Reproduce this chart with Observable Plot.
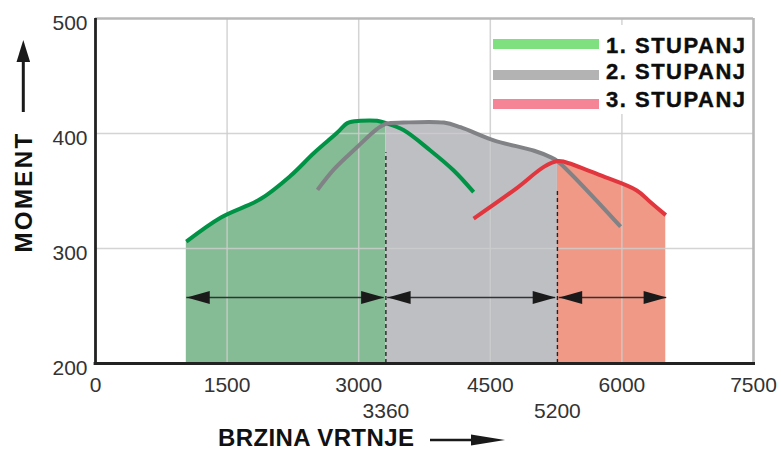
<!DOCTYPE html>
<html>
<head>
<meta charset="utf-8">
<script src="https://cdn.jsdelivr.net/npm/d3@7"></script>
<script src="https://cdn.jsdelivr.net/npm/@observablehq/plot@0.6"></script>
<style>
  html, body { margin: 0; padding: 0; background: #fff; }
  #wrap { position: relative; width: 781px; height: 451px; overflow: hidden;
          font-family: "Liberation Sans", Arial, sans-serif; }
  #wrap > svg.overlay { position: absolute; left: 0; top: 0; pointer-events: none; }
  #wrap g[aria-label="x-axis tick label"], #wrap g[aria-label="y-axis tick label"] { font-size: 21px; }
  #legend { position: absolute; left: 492px; top: 25px; width: 259px; height: 89px; background: #fff; }
  .lg-line { position: absolute; left: 1px; width: 106px; height: 10px; }
  .lg-text { position: absolute; left: 114px; font-weight: bold; font-size: 22px; letter-spacing: 1.5px;
             color: #0d0d0d; line-height: 22px; white-space: nowrap; -webkit-text-stroke: 0.4px #0d0d0d; }
</style>
</head>
<body>
<div id="wrap"></div>
<script>
// ---------- data ----------
const gear1Rpm    = [1035, 1430, 1880, 2220, 2490, 2760, 2870, 3020, 3210, 3310, 3510, 3820, 4080, 4310];
const gear1Torque = [306, 327, 343, 363, 383, 401, 409, 411, 411, 409, 403, 385, 368, 349];

const gear2Rpm    = [2530, 2720, 2980, 3210, 3310, 3510, 3970, 4160, 4540, 5000, 5185, 5265, 5985];
const gear2Torque = [351, 369, 388, 404, 408.5, 409.5, 409.5, 405.5, 394, 385, 379.5, 376, 319];

const gear3Rpm    = [4310, 4810, 5110, 5265, 5340, 5760, 6170, 6330, 6500];
const gear3Torque = [326, 353, 371, 376, 375.5, 363.5, 350.5, 340, 329];

const shiftRpm    = [3310, 5265];
const shiftTorque = [408.5, 376];
const shiftLabels = ["3360", "5200"];

const rangeFrom   = [1040, 3330, 5285];
const rangeTo     = [3290, 5245, 6510];
const rangeTorque = 257.5;

const xTicks = [0, 1500, 3000, 4500, 6000, 7500];
const yTicks = [200, 300, 400, 500];

const legendLabels = ["1. STUPANJ", "2. STUPANJ", "3. STUPANJ"];
const legendColors = ["#7fe07f", "#b3b3b3", "#f58497"];
const lineColors   = ["#009245", "#808285", "#e2363e"];
const fillColors   = ["#85bc95", "#bebfc3", "#f09987"];

// ---------- tables ----------
const toRows = (xs, ys) => xs.map((x, i) => ({x, y: ys[i]}));
const g1 = toRows(gear1Rpm, gear1Torque);
const g2 = toRows(gear2Rpm, gear2Torque);
const g3 = toRows(gear3Rpm, gear3Torque);
const shifts = toRows(shiftRpm, shiftTorque);
const ranges = rangeFrom.map((a, i) => ({x1: a, x2: rangeTo[i]}));

const a1 = g1.filter(d => d.x <= shiftRpm[0]);
const a2 = g2.filter(d => d.x >= shiftRpm[0] && d.x <= shiftRpm[1]);
const a3 = g3.filter(d => d.x >= shiftRpm[1]);

const headL = { draw(ctx) { ctx.moveTo(0, 0); ctx.lineTo(23, -6.5); ctx.lineTo(23, 6.5); ctx.closePath(); } };
const headR = { draw(ctx) { ctx.moveTo(0, 0); ctx.lineTo(-23, -6.5); ctx.lineTo(-23, 6.5); ctx.closePath(); } };

const curve = "catmull-rom";
const plain = d => String(d);

const chart = Plot.plot({
  width: 781,
  height: 451,
  marginLeft: 95,
  marginRight: 28,
  marginTop: 18,
  marginBottom: 88,
  x: {domain: [0, 7500], label: null},
  y: {domain: [200, 500], label: null},
  style: {fontFamily: "Liberation Sans, Arial, sans-serif", background: "transparent", overflow: "visible"},
  marks: [
    Plot.areaY(a1, {x: "x", y1: 200, y2: "y", fill: fillColors[0], curve}),
    Plot.areaY(a2, {x: "x", y1: 200, y2: "y", fill: fillColors[1], curve}),
    Plot.areaY(a3, {x: "x", y1: 200, y2: "y", fill: fillColors[2], curve}),
    Plot.ruleX(xTicks.slice(1, -1), {y1: 200, y2: 500, stroke: "#cccccc", strokeOpacity: 0.85, strokeWidth: 1.5}),
    Plot.ruleY(yTicks.slice(1, -1), {x1: 0, x2: 7500, stroke: "#cccccc", strokeOpacity: 0.85, strokeWidth: 1.5}),
    Plot.ruleX([7500], {y1: 200, y2: 500, stroke: "#b8b8b8", strokeWidth: 2.6}),
    Plot.ruleY([500], {x1: 0, x2: 7500, stroke: "#b8b8b8", strokeWidth: 2.6}),
    Plot.ruleX(shifts, {x: "x", y1: 200, y2: "y", stroke: "#222", strokeWidth: 1.4, strokeDasharray: "4,3", insetBottom: -29}),
    Plot.ruleY(ranges, {x1: "x1", x2: "x2", y: rangeTorque, stroke: "#333", strokeWidth: 1.5}),
    Plot.dot(ranges, {x: "x1", y: rangeTorque, symbol: headL, fill: "#1a1a1a", stroke: "none"}),
    Plot.dot(ranges, {x: "x2", y: rangeTorque, symbol: headR, fill: "#1a1a1a", stroke: "none"}),
    Plot.line(g1, {x: "x", y: "y", stroke: lineColors[0], strokeWidth: 4, strokeLinecap: "butt", curve}),
    Plot.line(g2, {x: "x", y: "y", stroke: lineColors[1], strokeWidth: 4, strokeLinecap: "butt", curve}),
    Plot.line(g3, {x: "x", y: "y", stroke: lineColors[2], strokeWidth: 4, strokeLinecap: "butt", curve}),
    Plot.ruleX([0], {y1: 200, y2: 500, stroke: "#222", strokeWidth: 2.8, insetTop: -1}),
    Plot.ruleY([200], {x1: 0, x2: 7500, stroke: "#222", strokeWidth: 2.8, insetLeft: -1.4, insetRight: -2}),
    Plot.axisX(xTicks, {tickSize: 0, tickPadding: 14, fontSize: 21, fill: "#333", label: null, tickFormat: plain}),
    Plot.axisX(shiftRpm, {tickSize: 0, tickPadding: 40, fontSize: 21, fill: "#333", label: null,
                          tickFormat: d => shiftLabels[shiftRpm.indexOf(d)]}),
    Plot.axisY(yTicks, {tickSize: 0, tickPadding: 8, fontSize: 21, fill: "#333", dy: 5, label: null, tickFormat: plain})
  ]
});

const wrap = document.getElementById("wrap");
wrap.appendChild(chart);

// legend
const legend = document.createElement("div");
legend.id = "legend";
const lineTops = [14, 44.5, 73.5];
const textTops = [10, 36, 64];
legendLabels.forEach((lab, i) => {
  const ln = document.createElement("div");
  ln.className = "lg-line";
  ln.style.top = lineTops[i] + "px";
  ln.style.background = legendColors[i];
  legend.appendChild(ln);
  const tx = document.createElement("div");
  tx.className = "lg-text";
  tx.style.top = textTops[i] + "px";
  tx.textContent = lab;
  legend.appendChild(tx);
});
wrap.appendChild(legend);

// axis titles with arrows
const NS = "http://www.w3.org/2000/svg";
const ov = document.createElementNS(NS, "svg");
ov.setAttribute("class", "overlay");
ov.setAttribute("width", 781);
ov.setAttribute("height", 451);
ov.innerHTML = `
  <g font-family="Liberation Sans, Arial, sans-serif" font-weight="bold" fill="#111">
    <text transform="translate(32,192) rotate(-90)" text-anchor="middle" font-size="24" letter-spacing="2.4">MOMENT</text>
    <text x="218" y="446" font-size="24" letter-spacing="0.4">BRZINA VRTNJE</text>
  </g>
  <line x1="23.3" y1="112" x2="23.3" y2="58" stroke="#1a1a1a" stroke-width="3"/>
  <polygon points="23.3,40 16.5,62 30.1,62" fill="#1a1a1a"/>
  <line x1="430" y1="440" x2="474" y2="440" stroke="#1a1a1a" stroke-width="2.6"/>
  <polygon points="505,440 471,434.5 471,445.5" fill="#1a1a1a"/>
`;
wrap.appendChild(ov);
</script>
</body>
</html>
